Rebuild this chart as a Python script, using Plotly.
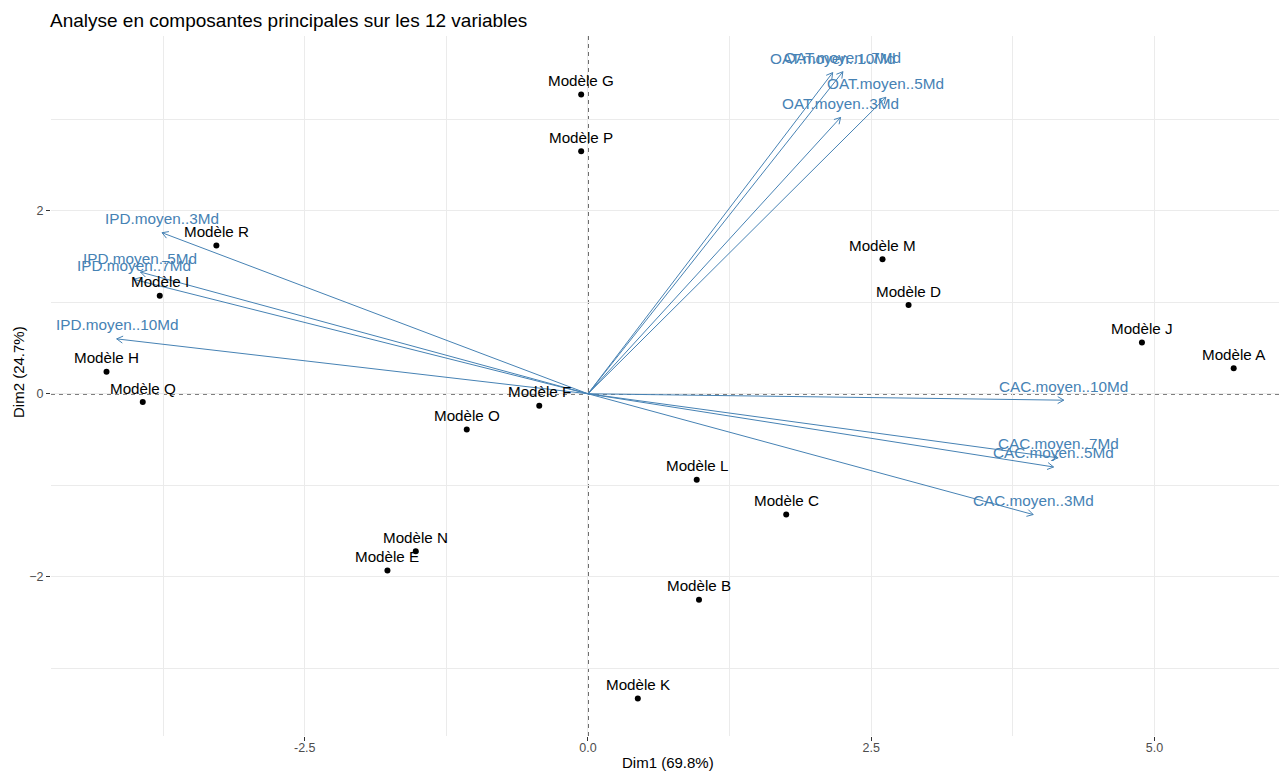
import math
import plotly.graph_objects as go

# Individuals (coordinates on Dim1 / Dim2)
ind_names = ["Modèle A", "Modèle B", "Modèle C", "Modèle D", "Modèle E", "Modèle F",
             "Modèle G", "Modèle H", "Modèle I", "Modèle J", "Modèle K", "Modèle L",
             "Modèle M", "Modèle N", "Modèle O", "Modèle P", "Modèle Q", "Modèle R"]
ind_dim1 = [5.70, 0.98, 1.75, 2.83, -1.77, -0.43,
            -0.06, -4.25, -3.78, 4.89, 0.44, 0.96,
            2.60, -1.52, -1.07, -0.06, -3.93, -3.28]
ind_dim2 = [0.28, -2.25, -1.32, 0.97, -1.93, -0.13,
            3.27, 0.24, 1.07, 0.56, -3.33, -0.94,
            1.47, -1.72, -0.39, 2.65, -0.09, 1.62]

# Variables (arrow ends on Dim1 / Dim2)
var_names = ["OAT.moyen..10Md", "OAT.moyen..7Md", "OAT.moyen..5Md", "OAT.moyen..3Md",
             "CAC.moyen..10Md", "CAC.moyen..7Md", "CAC.moyen..5Md", "CAC.moyen..3Md",
             "IPD.moyen..10Md", "IPD.moyen..7Md", "IPD.moyen..5Md", "IPD.moyen..3Md"]
var_dim1 = [2.16, 2.25, 2.63, 2.23,
            4.20, 4.15, 4.11, 3.93,
            -4.16, -4.01, -3.95, -3.76]
var_dim2 = [3.51, 3.52, 3.24, 3.02,
            -0.07, -0.70, -0.80, -1.32,
            0.60, 1.25, 1.33, 1.76]

x_ticks = [-2.5, 0.0, 2.5, 5.0]
x_ticktext = ["-2.5", "0.0", "2.5", "5.0"]
y_ticks = [-2, 0, 2]

title_text = "Analyse en composantes principales sur les 12 variables"
x_title = "Dim1 (69.8%)"
y_title = "Dim2 (24.7%)"

# Layout geometry
W, H = 1279, 771
M_L, M_R, M_T, M_B = 51, 0, 36, 35
X_RANGE = [-4.74, 6.10]
Y_RANGE = [-3.74, 3.91]
ARROW = "#4682B4"
FONT = "Liberation Sans, Arial, sans-serif"

plot_w = W - M_L - M_R
plot_h = H - M_T - M_B
kx = plot_w / (X_RANGE[1] - X_RANGE[0])   # pixels per unit, x
ky = plot_h / (Y_RANGE[1] - Y_RANGE[0])   # pixels per unit, y

# Arrow shafts from the origin, plus open heads (two strokes at +/-30 deg)
shaft_x, shaft_y = [], []
head_x, head_y = [], []
head_len = 7.0
head_ang = math.radians(30)
for vx, vy in zip(var_dim1, var_dim2):
    shaft_x += [0, vx, None]
    shaft_y += [0, vy, None]
    px, py = vx * kx, vy * ky
    n = math.hypot(px, py)
    ux, uy = px / n, py / n
    for s in (1, -1):
        c, si = math.cos(s * head_ang), math.sin(s * head_ang)
        rx = ux * c - uy * si
        ry = ux * si + uy * c
        hx = px - head_len * rx
        hy = py - head_len * ry
        head_x += [hx / kx, vx, None]
        head_y += [hy / ky, vy, None]

fig = go.Figure()

fig.add_hline(y=0, line=dict(color="black", width=1.2, dash="4px,4px"), layer="below")
fig.add_vline(x=0, line=dict(color="black", width=1.2, dash="4px,4px"), layer="below")

fig.add_trace(go.Scatter(x=ind_dim1, y=ind_dim2, mode="markers",
                         marker=dict(color="black", size=6),
                         hoverinfo="text", text=ind_names, showlegend=False))

fig.add_trace(go.Scatter(x=shaft_x, y=shaft_y, mode="lines",
                         line=dict(color=ARROW, width=1),
                         hoverinfo="skip", showlegend=False))
fig.add_trace(go.Scatter(x=head_x, y=head_y, mode="lines",
                         line=dict(color=ARROW, width=1),
                         hoverinfo="skip", showlegend=False))

annotations = []
for name, x, y in zip(ind_names, ind_dim1, ind_dim2):
    annotations.append(dict(x=x, y=y, xref="x", yref="y", text=name, showarrow=False,
                            xanchor="center", yanchor="middle", yshift=14,
                            font=dict(family=FONT, size=15.2, color="black")))
for name, x, y in zip(var_names, var_dim1, var_dim2):
    annotations.append(dict(x=x, y=y, xref="x", yref="y", text=name, showarrow=False,
                            xanchor="center", yanchor="middle", yshift=14,
                            font=dict(family=FONT, size=15.3, color=ARROW)))

# Axis titles, placed in page pixels and converted to paper fractions
def page_to_paper(px, py):
    return (px - M_L) / plot_w, (H - py - M_B) / plot_h

xt_x, xt_y = page_to_paper(668, 763)
yt_x, yt_y = page_to_paper(18, 372)
annotations.append(dict(x=xt_x, y=xt_y, xref="paper", yref="paper", text=x_title,
                        showarrow=False, xanchor="center", yanchor="middle",
                        font=dict(family=FONT, size=15, color="black")))
annotations.append(dict(x=yt_x, y=yt_y, xref="paper", yref="paper", text=y_title,
                        textangle=-90, showarrow=False, xanchor="center", yanchor="middle",
                        font=dict(family=FONT, size=15, color="black")))

fig.update_layout(
    width=W, height=H,
    margin=dict(l=M_L, r=M_R, t=M_T, b=M_B),
    paper_bgcolor="white", plot_bgcolor="white",
    font=dict(family=FONT, color="black"),
    title=dict(text=title_text, xref="container", yref="container",
               x=50 / W, y=1 - 20 / H, xanchor="left", yanchor="middle",
               font=dict(family=FONT, size=19, color="black")),
    annotations=annotations,
    showlegend=False,
)

fig.update_xaxes(range=X_RANGE, tickvals=x_ticks, ticktext=x_ticktext, automargin=False,
                 showgrid=True, gridcolor="#EBEBEB", gridwidth=1,
                 minor=dict(dtick=1.25, tick0=0, showgrid=True, gridcolor="#EBEBEB", gridwidth=0.6),
                 zeroline=False, showline=False,
                 ticks="outside", ticklen=4, tickcolor="#333333", tickwidth=1,
                 ticklabelstandoff=-4,
                 tickfont=dict(family=FONT, size=12.5, color="#4D4D4D"))
fig.update_yaxes(range=Y_RANGE, tickvals=y_ticks, automargin=False,
                 showgrid=True, gridcolor="#EBEBEB", gridwidth=1,
                 minor=dict(dtick=1, tick0=0, showgrid=True, gridcolor="#EBEBEB", gridwidth=0.6),
                 zeroline=False, showline=False,
                 ticks="outside", ticklen=4, tickcolor="#333333", tickwidth=1,
                 tickfont=dict(family=FONT, size=12.5, color="#4D4D4D"))

fig.write_html("out.html")
